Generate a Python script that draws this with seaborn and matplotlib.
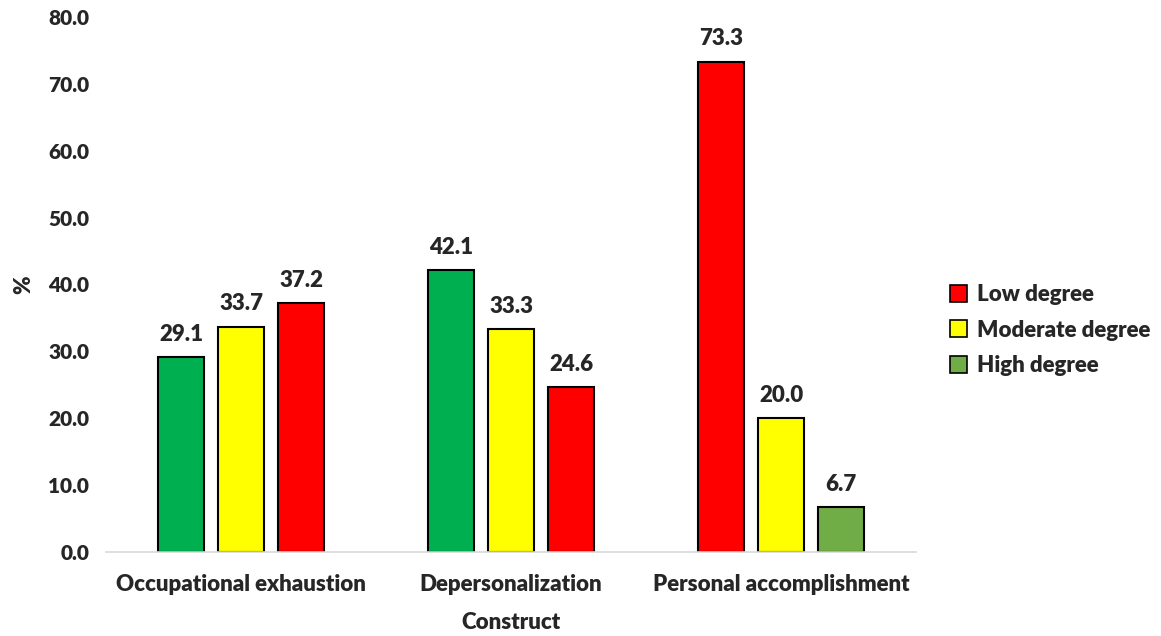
import matplotlib
matplotlib.use("Agg")
import matplotlib.pyplot as plt
from matplotlib.patches import Patch
from matplotlib.ticker import FormatStrFormatter
import seaborn as sns
import pandas as pd

# ---- data ----
constructs = ["Occupational exhaustion", "Depersonalization", "Personal accomplishment"]
slot1_levels = ["High degree", "High degree", "Low degree"]
slot1_values = [29.1, 42.1, 73.3]
slot2_levels = ["Moderate degree", "Moderate degree", "Moderate degree"]
slot2_values = [33.7, 33.3, 20.0]
slot3_levels = ["Low degree", "Low degree", "High degree"]
slot3_values = [37.2, 24.6, 6.7]
legend_labels = ["Low degree", "Moderate degree", "High degree"]

# ---- styles ----
slot_colors = [
    ["#00B050", "#00B050", "#FF0000"],
    ["#FFFF00", "#FFFF00", "#FFFF00"],
    ["#FF0000", "#FF0000", "#70AD47"],
]
legend_colors = ["#FF0000", "#FFFF00", "#70AD47"]
W = "heavy"

rows = []
for slot, vals, levs in [("s1", slot1_values, slot1_levels),
                         ("s2", slot2_values, slot2_levels),
                         ("s3", slot3_values, slot3_levels)]:
    for c, v, l in zip(constructs, vals, levs):
        rows.append({"Construct": c, "slot": slot, "value": v, "level": l})
df = pd.DataFrame(rows)

sns.set_theme(style="white")
plt.rcParams["font.family"] = ["Lato", "DejaVu Sans"]
plt.rcParams["font.weight"] = W

fig = plt.figure(figsize=(11.61, 6.36), dpi=100)
ax = fig.add_axes([106 / 1161, 1 - 552 / 636, 810 / 1161, 535 / 636])

sns.barplot(data=df, x="Construct", y="value", hue="slot", order=constructs,
            hue_order=["s1", "s2", "s3"], width=0.667, gap=0.22,
            edgecolor="black", linewidth=1.5, legend=False, ax=ax, errorbar=None)

for si, cont in enumerate(ax.containers):
    for ci, bar in enumerate(cont):
        bar.set_facecolor(slot_colors[si][ci])
    ax.bar_label(cont, fmt="%.1f", padding=9, fontsize=16, fontweight=W)

ax.set_ylim(0, 80)
ax.set_xlim(-0.5, 2.5)
ax.set_yticks(range(0, 81, 10))
ax.yaxis.set_major_formatter(FormatStrFormatter("%.1f"))
ax.tick_params(axis="y", length=0, labelsize=15, pad=12)
ax.tick_params(axis="x", length=0, labelsize=16, pad=16)
for lab in ax.get_xticklabels() + ax.get_yticklabels():
    lab.set_fontweight(W)
ax.set_ylabel("%", fontsize=16, fontweight=W, labelpad=10)
ax.set_xlabel("Construct", fontsize=16, fontweight=W, labelpad=12)

for s in ["top", "right", "left"]:
    ax.spines[s].set_visible(False)
ax.spines["bottom"].set_color("#D9D9D9")
ax.spines["bottom"].set_linewidth(1.2)

handles = [Patch(facecolor=c, edgecolor="black", linewidth=1.2) for c in legend_colors]
fig.legend(handles, legend_labels, loc="center left", bbox_to_anchor=(0.818, 0.481),
           frameon=False, prop={"size": 16, "weight": W}, borderpad=0, borderaxespad=0,
           handlelength=0.8, handleheight=0.8, labelspacing=0.65, handletextpad=0.45)

fig.savefig("out.png", dpi=100)
